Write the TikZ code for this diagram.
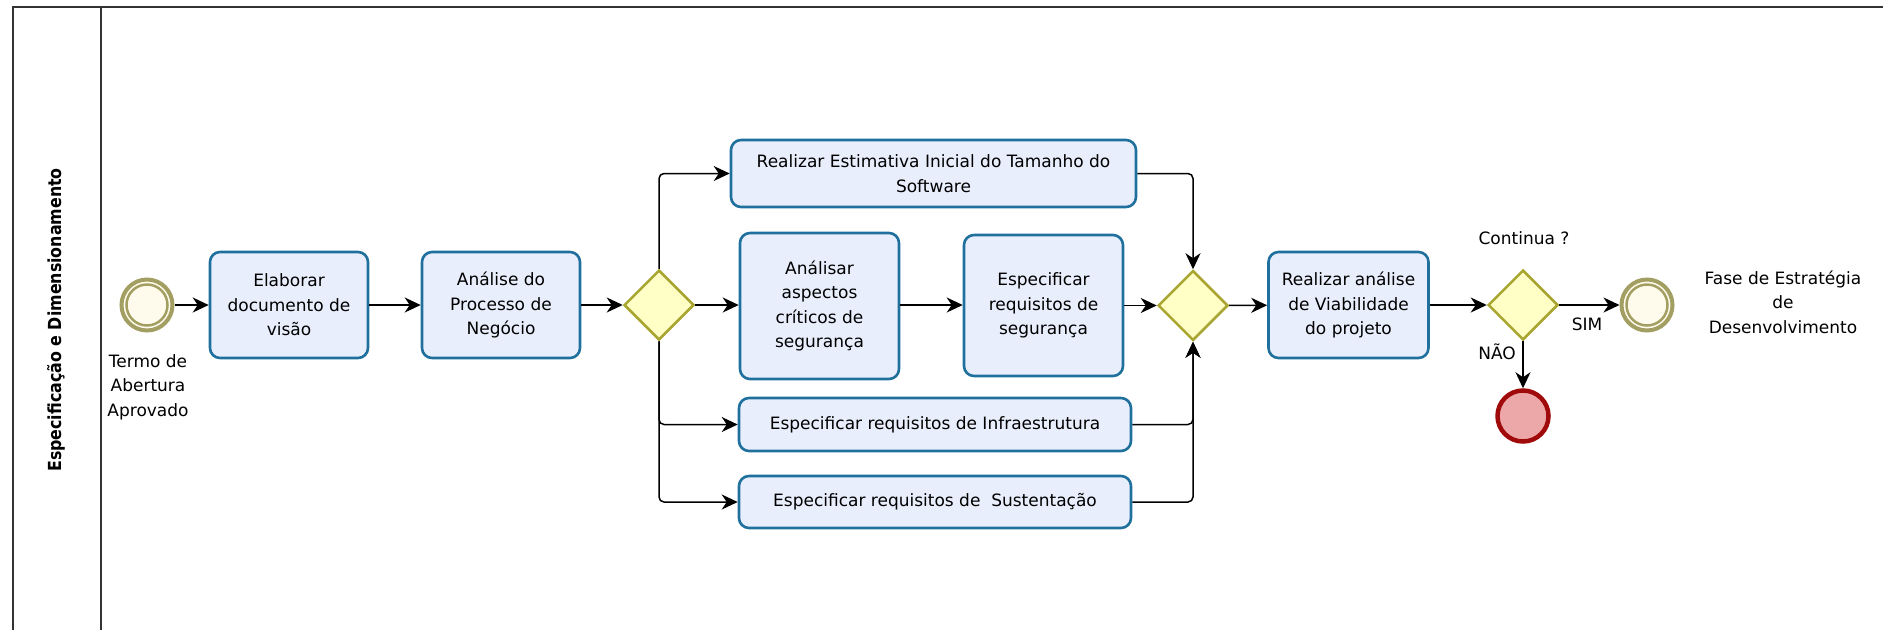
\documentclass[tikz,border=0pt]{standalone}
\usepackage{fontspec}
\setmainfont{DejaVu Sans}
\newfontfamily\lanefont[FakeStretch=0.88]{DejaVu Sans}
\usetikzlibrary{shapes.geometric,arrows.meta}

\definecolor{taskfill}{HTML}{E9EEFC}
\definecolor{taskline}{HTML}{20709E}
\definecolor{gatefill}{HTML}{FFFFC6}
\definecolor{gateline}{HTML}{A8A531}
\definecolor{evline}{HTML}{A39F62}
\definecolor{evfill}{HTML}{FFFBEC}
\definecolor{endfill}{HTML}{ECA8A8}
\definecolor{endline}{HTML}{A10A0A}
\definecolor{poolline}{HTML}{333333}

\begin{document}
\begin{tikzpicture}[x=1pt,y=-1pt,
  every node/.style={font=\fontsize{17}{24.5}\selectfont},
  task/.style n args={2}{rectangle, rounded corners=10pt, draw=taskline,
    line width=2.6pt, fill=taskfill, align=center, inner sep=0pt,
    minimum width=#1, minimum height=#2},
  gate/.style={diamond, draw=gateline, fill=gatefill, line width=2.5pt,
    inner sep=0pt, minimum width=70pt, minimum height=70pt},
  event/.style={circle, draw=evline, fill=evfill, line width=4pt,
    inner sep=0pt, minimum size=51pt},
  endevent/.style={circle, draw=endline, fill=endfill, line width=4.5pt,
    inner sep=0pt, minimum size=51pt},
  label/.style={align=center, inner sep=0pt},
  flow/.style={draw=black, line width=1.5pt, rounded corners=5pt,
    -{Stealth[length=16pt,width=15pt,inset=5pt]}},
]
\useasboundingbox (0,0) rectangle (1883,630);

% pool and lane header
\draw[poolline, line width=2pt] (13,630) -- (13,7) -- (1883,7);
\draw[poolline, line width=2pt] (101,7) -- (101,630);
\node[rotate=90, inner sep=0pt, font=\lanefont\bfseries\fontsize{18}{20}\selectfont]
  (lane) at (56,320) {Especificação e Dimensionamento};

% events
\node[event] (start) at (147,305) {};
\draw[evline, line width=2.5pt] (start.center) circle[radius=20.5pt];
\node[label] (startlbl) at (148,387) {Termo de\\Abertura\\Aprovado};

\node[event] (endok) at (1647,305) {};
\draw[evline, line width=2.5pt] (endok.center) circle[radius=20.5pt];
\node[label] (endoklbl) at (1783,302) {Fase de Estratégia\\de\\Desenvolvimento};

\node[endevent] (endno) at (1523,416) {};

% tasks
\node[task={158pt}{106pt}] (t1) at (289,305) {Elaborar\\documento de\\visão};
\node[task={158pt}{106pt}] (t2) at (501,305) {Análise do\\Processo de\\Negócio};
\node[task={405pt}{67pt}] (t3) at (933.5,173.5) {Realizar Estimativa Inicial do Tamanho do\\Software};
\node[task={159pt}{146pt}] (t4) at (819.5,306) {Análisar\\aspectos\\críticos de\\segurança};
\node[task={159pt}{141pt}] (t5) at (1043.5,305.5) {Especificar\\requisitos de\\segurança};
\node[task={392pt}{53pt}] (t6) at (935,424.5) {Especificar requisitos de Infraestrutura};
\node[task={392pt}{52pt}] (t7) at (935,502) {Especificar requisitos de\ \ Sustentação};
\node[task={160pt}{106pt}] (t8) at (1348.5,305) {Realizar análise\\de Viabilidade\\do projeto};

% gateways
\node[gate] (g1) at (659,305) {};
\node[gate] (g2) at (1193,305.5) {};
\node[gate] (g3) at (1523,305) {};
\node[label] (g3lbl) at (1524,238) {Continua ?};
\node[label] (simlbl) at (1587,324) {SIM};
\node[label] (naolbl) at (1497,352) {NÃO};

% sequence flows
\draw[flow] (start) -- (t1);
\draw[flow] (t1) -- (t2);
\draw[flow] (t2) -- (g1);
\draw[flow] (g1.north) |- (t3.west);
\draw[flow] (g1.east) -- (g1.east -| t4.west);
\draw[flow] (g1.south) |- (t6.west);
\draw[flow] (g1.south) |- (t7.west);
\draw[flow] (t4.east |- g1.east) -- (g1.east -| t5.west);
\draw[flow] (t5.east |- g2.west) -- (g2.west);
\draw[flow] (t3.east) -| (g2.north);
\draw[flow] (t6.east) -| (g2.south);
\draw[flow] (t7.east) -| (g2.south);
\draw[flow] (g2) -- (t8);
\draw[flow] (t8) -- (g3);
\draw[flow] (g3.east) -- (endok.west);
\draw[flow] (g3.south) -- (endno.north);
\end{tikzpicture}
\end{document}
